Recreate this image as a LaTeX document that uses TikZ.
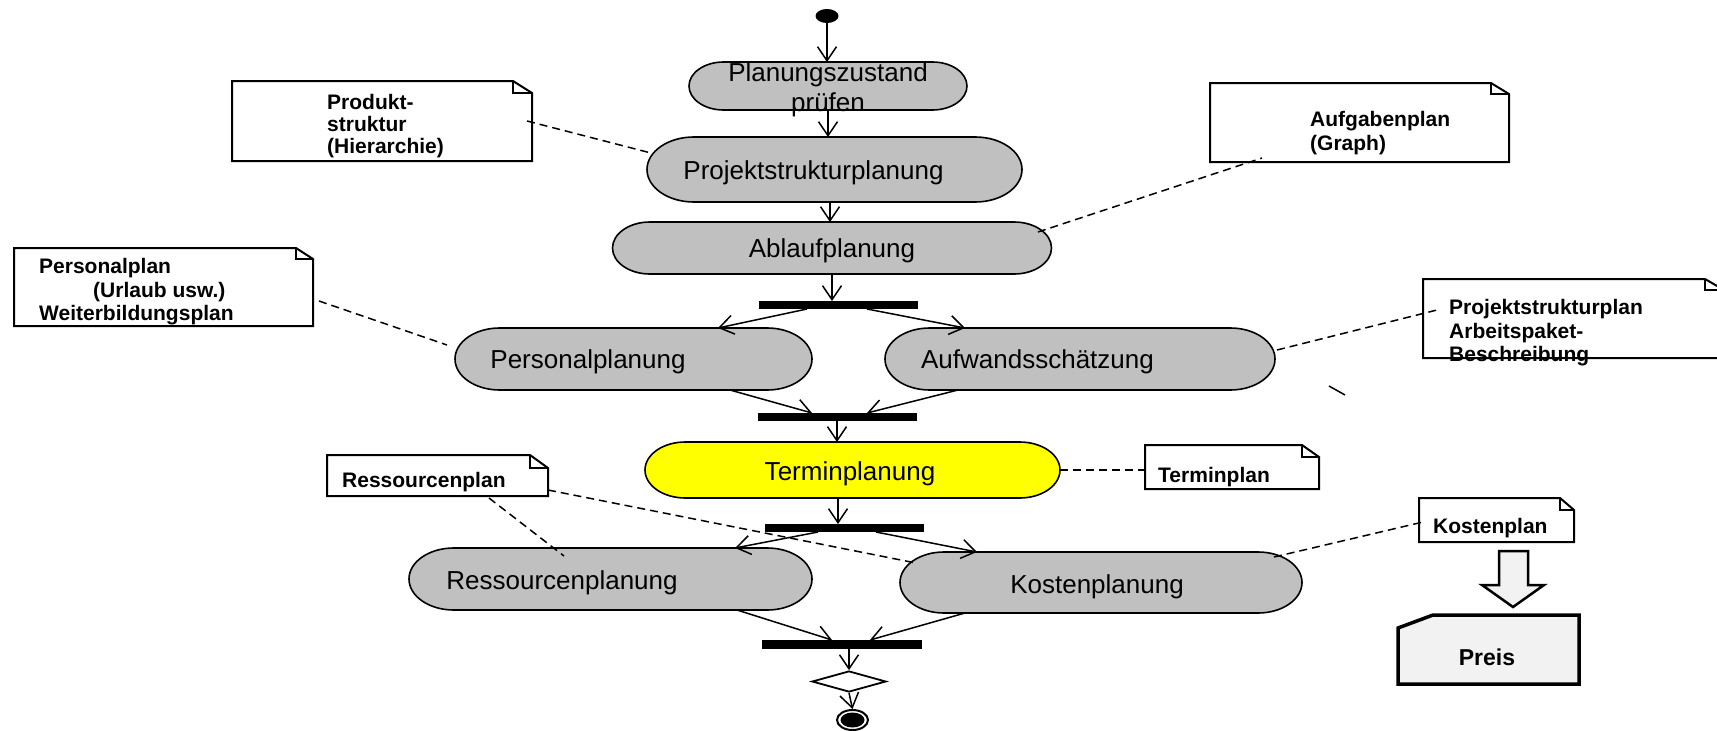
\documentclass[tikz,border=0pt]{standalone}
\usepackage{fontspec}
\setmainfont{Liberation Sans}
\usetikzlibrary{arrows.meta,shapes.geometric,fit,calc}
\definecolor{capgray}{HTML}{C0C0C0}
\definecolor{capyellow}{HTML}{FFFF00}
\definecolor{lightfill}{HTML}{F2F2F2}

\newcommand\capsule[6]{%
  \node[inner sep=0pt, outer sep=0pt, minimum width=#4pt, minimum height=#5pt] (#1) at (#2,-#3) {};
  \pgfmathsetmacro\capr{0.72*#5}%
  \filldraw[capline, fill=#6] ($(#1.north west)+(\capr,0)$) -- ($(#1.north east)+(-\capr,0)$)
    arc[start angle=90, end angle=-90, x radius=\capr, y radius=#5/2]
    -- ($(#1.south west)+(\capr,0)$)
    arc[start angle=270, end angle=90, x radius=\capr, y radius=#5/2] -- cycle;
}
\newcommand\notebox[7]{%
  \node[fit={(#2,-#3) (#4,-#5)}, inner sep=0pt, outer sep=0pt] (#1) {};
  \filldraw[noteline, fill=white] (#2,-#3) -- (#4-#6,-#3) -- (#4,-#3-#7) -- (#4,-#5) -- (#2,-#5) -- cycle;
  \draw[noteline] (#4-#6,-#3) -- (#4-#6,-#3-#7) -- (#4,-#3-#7);
}

\begin{document}
\begin{tikzpicture}[x=1pt, y=1pt,
  capline/.style={line width=1.6pt},
  noteline/.style={line width=2pt, line join=miter},
  bar/.style={fill=black, inner sep=0pt, outer sep=0pt, minimum height=8pt},
  flow/.style={line width=1.5pt, -{Straight Barb[length=14pt, width=19pt]}},
  link/.style={line width=1.5pt, dash pattern=on 8pt off 5pt},
  main/.style={font=\fontsize{26}{30}\selectfont, inner sep=0pt},
  notetext/.style={font=\bfseries\fontsize{21}{23.5}\selectfont, inner sep=0pt, align=left, anchor=west}]
\useasboundingbox (0,0) rectangle (1717,-731);
\clip (0,0) rectangle (1717,-731);

% notes
\notebox{n1}{232}{81}{532}{161}{19}{12}
\notebox{n2}{1210}{83}{1509}{162}{18}{11}
\notebox{n3}{14}{248}{313}{326}{17}{11}
\notebox{n4}{1423}{279}{1724}{358}{19}{11}
\notebox{n5}{1145}{445}{1319}{489}{17}{12}
\notebox{n6}{327}{455}{548}{496}{18}{13}
\notebox{n7}{1419}{498}{1574}{542}{14}{12}

% activities
\capsule{pz}{828}{86}{278}{48}{capgray}
\capsule{ps}{834.5}{169.5}{375}{65}{capgray}
\capsule{ap}{832}{248}{439}{52}{capgray}
\capsule{pp}{633.5}{359}{357}{62}{capgray}
\capsule{aw}{1080}{359}{390}{62}{capgray}
\capsule{tp}{852.5}{470}{415}{56}{capyellow}
\capsule{rp}{610.5}{579}{403}{62}{capgray}
\capsule{kp}{1101}{582.5}{402}{61}{capgray}

% start, bars, decision, end
\node[fill=black, ellipse, inner sep=0pt, minimum width=23pt, minimum height=14pt] (st) at (827,-16) {};
\node[bar, minimum width=159pt] (b1) at (838.5,-305) {};
\node[bar, minimum width=159pt] (b2) at (837.5,-417) {};
\node[bar, minimum width=159pt] (b3) at (844.5,-528) {};
\node[bar, minimum width=160pt, minimum height=9pt] (b4) at (842,-644.5) {};
\node[draw, diamond, line width=1.8pt, fill=white, inner sep=0pt, minimum width=74pt, minimum height=21pt] (dm) at (849,-681.5) {};
\node[draw, ellipse, line width=2pt, fill=white, inner sep=0pt, minimum width=31pt, minimum height=20pt] (en) at (852.5,-720) {};
\node[fill=black, ellipse, inner sep=0pt, minimum width=24pt, minimum height=15pt] (enin) at (en.center) {};

% control flow
\draw[flow] (st.south) -- ([xshift=-1pt]pz.north);
\draw[flow] (pz.south) -- ([xshift=-6.5pt]ps.north);
\draw[flow] ([xshift=-4.5pt]ps.south) -- ([xshift=-2pt]ap.north);
\draw[flow] (ap.south) -- ([xshift=-6.5pt]b1.north);
\draw[flow] ([xshift=-31.5pt]b1.south) -- ([xshift=84.5pt]pp.north);
\draw[flow] ([xshift=28.5pt]b1.south) -- ([xshift=-115pt]aw.north);
\draw[flow] ([xshift=96.5pt]pp.south) -- ([xshift=-25.5pt]b2.north);
\draw[flow] ([xshift=-122pt]aw.south) -- ([xshift=29.5pt]b2.north);
\draw[flow] ([xshift=-0.5pt]b2.south) -- ([xshift=-15.5pt]tp.north);
\draw[flow] ([xshift=-14.5pt]tp.south) -- ([xshift=-6.5pt]b3.north);
\draw[flow] ([xshift=-26.5pt]b3.south) -- ([xshift=124.5pt]rp.north);
\draw[flow] ([xshift=31.5pt]b3.south) -- ([xshift=-124pt]kp.north);
\draw[flow] ([xshift=126.5pt]rp.south) -- ([xshift=-10pt]b4.north);
\draw[flow] ([xshift=-136pt]kp.south) -- ([xshift=28pt]b4.north);
\draw[flow] ([xshift=7pt]b4.south) -- (dm.north);
\draw[flow] (dm.south) -- (en.north);

% note links
\draw[link] ([xshift=-5pt]n1.east) -- ([shift={(-183.5,16.5)}]ps.center);
\draw[link] ([shift={(206,16)}]ap.center) -- ([shift={(-97.5,-35.5)}]n2.center);
\draw[link] ([shift={(6,-14)}]n3.east) -- ([shift={(-186.5,14)}]pp.center);
\draw[link] ([shift={(197,9)}]aw.center) -- ([shift={(14,8.5)}]n4.west);
\draw[link] (tp.east) -- ([yshift=-3pt]n5.west);
\draw[link] ([shift={(51.5,-2)}]n6.south) -- ([shift={(-46.5,23)}]rp.center);
\draw[link] ([yshift=-14.5pt]n6.east) -- ([shift={(-185,19.5)}]kp.center);
\draw[link] ([shift={(173,25.5)}]kp.center) -- ([shift={(4,-2)}]n7.west);

% stray stroke
\draw[line width=1.5pt] (1329,-386) -- (1345,-395);

% block arrow and price
\filldraw[line width=2.5pt, fill=lightfill, line join=miter] (1499,-551) -- (1528,-551) -- (1528,-585) -- (1544,-585) -- (1513,-607) -- (1482,-585) -- (1499,-585) -- cycle;
\filldraw[line width=3.5pt, fill=lightfill, line join=miter] (1398,-628) -- (1433,-615) -- (1579,-615) -- (1579,-684) -- (1398,-684) -- cycle;
\node[font=\bfseries\fontsize{23}{26}\selectfont, inner sep=0pt] (preis) at (1487,-657) {Preis};

% labels
\node[main, align=center] (pzt) at (828,-90) {Planungszustand\\prüfen};
\node[main] (pst) at (813.5,-172.5) {Projektstrukturplanung};
\node[main] (apt) at (832,-250.5) {Ablaufplanung};
\node[main] (ppt) at (588,-361.5) {Personalplanung};
\node[main] (awt) at (1037.5,-361.5) {Aufwandsschätzung};
\node[main] (tpt) at (850,-473.5) {Terminplanung};
\node[main] (rpt) at (562,-583) {Ressourcenplanung};
\node[main] (kpt) at (1097,-587) {Kostenplanung};

\node[notetext, font=\bfseries\fontsize{21}{22}\selectfont] (n1t) at (327,-126) {Produkt-\\struktur\\(Hierarchie)};
\node[notetext] (n2t) at (1310,-133) {Aufgabenplan\\(Graph)};
\node[notetext] (n3t) at (39,-292) {Personalplan\\\hspace*{54pt}(Urlaub usw.)\\Weiterbildungsplan};
\node[notetext] (n4t) at (1449,-333) {Projektstrukturplan\\Arbeitspaket-\\Beschreibung};
\node[notetext] (n5t) at (1158,-477) {Terminplan};
\node[notetext] (n6t) at (342,-482) {Ressourcenplan};
\node[notetext] (n7t) at (1433,-528) {Kostenplan};
\end{tikzpicture}
\end{document}
